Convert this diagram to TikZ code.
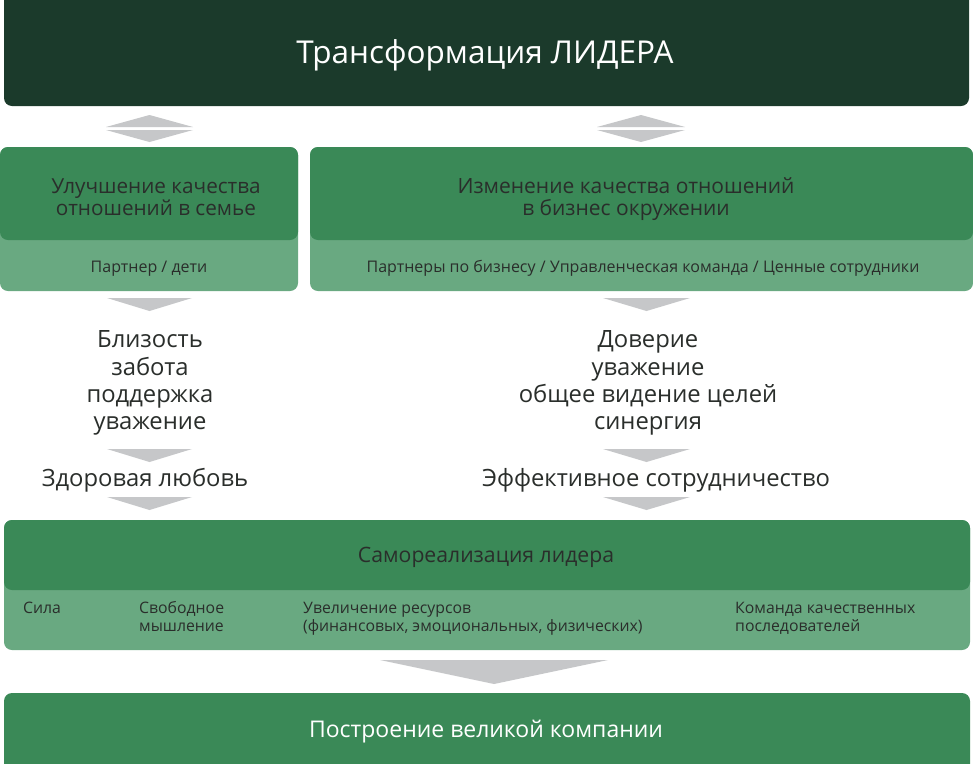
\documentclass[tikz,border=0pt]{standalone}
\usepackage{fontspec}
\setmainfont{Open Sans}
\definecolor{dk}{HTML}{1B3A2B}
\definecolor{gr}{HTML}{3A8957}
\definecolor{lg}{HTML}{69A981}
\definecolor{ar}{HTML}{C6C7C9}
\definecolor{tx}{HTML}{2A2E2B}
\tikzset{
  fs/.style={font=\fontsize{#1}{#1}\selectfont},
  txt/.style={anchor=base, inner sep=0pt, text=tx},
  wtxt/.style={anchor=base, inner sep=0pt, text=white},
  sub/.style={anchor=base west, inner sep=0pt, text=tx, fs=15.8},
  tri/.style={fill=ar},
}
\begin{document}
\begin{tikzpicture}[x=1pt,y=-1pt]
\useasboundingbox (0,0) rectangle (973,763);
\fill[white] (0,0) rectangle (973,763);

% top box
\fill[dk, rounded corners=8pt] (4,-20) rectangle (969,106);
\node[wtxt, fs=31.5] (title) at (485,63) {Трансформация ЛИДЕРА};

% double arrows
\fill[tri] (106,127) -- (193,127) -- (149.5,115) -- cycle;
\fill[tri] (106,130) -- (193,130) -- (149.5,142) -- cycle;
\fill[tri] (597,127) -- (685,127) -- (641,115) -- cycle;
\fill[tri] (597,130) -- (685,130) -- (641,142) -- cycle;

% left box
\fill[lg, rounded corners=8pt] (0,147) rectangle (298,291);
\fill[gr, rounded corners=8pt] (0,147) rectangle (298,240);
\node[txt, fs=20.7] (l1) at (156,193) {Улучшение качества};
\node[txt, fs=20.7] (l2) at (156,215) {отношений в семье};
\node[txt, fs=16] (l3) at (149,272) {Партнер / дети};

% right box
\fill[lg, rounded corners=8pt] (310,147) rectangle (973,291);
\fill[gr, rounded corners=8pt] (310,147) rectangle (973,240);
\node[txt, fs=21] (r1) at (626,193) {Изменение качества отношений};
\node[txt, fs=21] (r2) at (626,215) {в бизнес окружении};
\node[txt, fs=16] (r3) at (643,272) {Партнеры по бизнесу / Управленческая команда / Ценные сотрудники};

% left column
\fill[tri] (107,298) -- (192,298) -- (149.5,311) -- cycle;
\node[txt, fs=23.8] (a1) at (150,347) {Близость};
\node[txt, fs=23.8] (a2) at (150,375) {забота};
\node[txt, fs=23.8] (a3) at (150,402) {поддержка};
\node[txt, fs=23.8] (a4) at (150,429) {уважение};
\fill[tri] (107,449) -- (192,449) -- (149.5,462) -- cycle;
\node[txt, fs=23.8] (a5) at (145,486) {Здоровая любовь};
\fill[tri] (107,497) -- (192,497) -- (149.5,510) -- cycle;

% right column
\fill[tri] (603,298) -- (690,298) -- (646.5,311) -- cycle;
\node[txt, fs=23.8] (b1) at (648,347) {Доверие};
\node[txt, fs=23.8] (b2) at (648,375) {уважение};
\node[txt, fs=23.8] (b3) at (648,402) {общее видение целей};
\node[txt, fs=23.8] (b4) at (648,429) {синергия};
\fill[tri] (603,449) -- (690,449) -- (646.5,462) -- cycle;
\node[txt, fs=23.8] (b5) at (656,486) {Эффективное сотрудничество};
\fill[tri] (603,497) -- (690,497) -- (646.5,510) -- cycle;

% self realisation box
\fill[lg, rounded corners=8pt] (4,520) rectangle (970,650);
\fill[gr, rounded corners=8pt] (4,520) rectangle (970,590);
\node[txt, fs=21.2] (s0) at (486,562) {Самореализация лидера};
\node[sub] (s1) at (23,613) {Сила};
\node[sub] (s2) at (139,613) {Свободное};
\node[sub] (s3) at (139,631) {мышление};
\node[sub] (s4) at (303,613) {Увеличение ресурсов};
\node[sub] (s5) at (303,631) {(финансовых, эмоциональных, физических)};
\node[sub] (s6) at (735,613) {Команда качественных};
\node[sub] (s7) at (735,631) {последователей};

% big arrow
\fill[tri] (380,660) -- (608,660) -- (494,684) -- cycle;

% bottom box
\fill[gr, rounded corners=8pt] (4,693) rectangle (970,775);
\node[wtxt, fs=23] (f1) at (486,737) {Построение великой компании};
\end{tikzpicture}
\end{document}
